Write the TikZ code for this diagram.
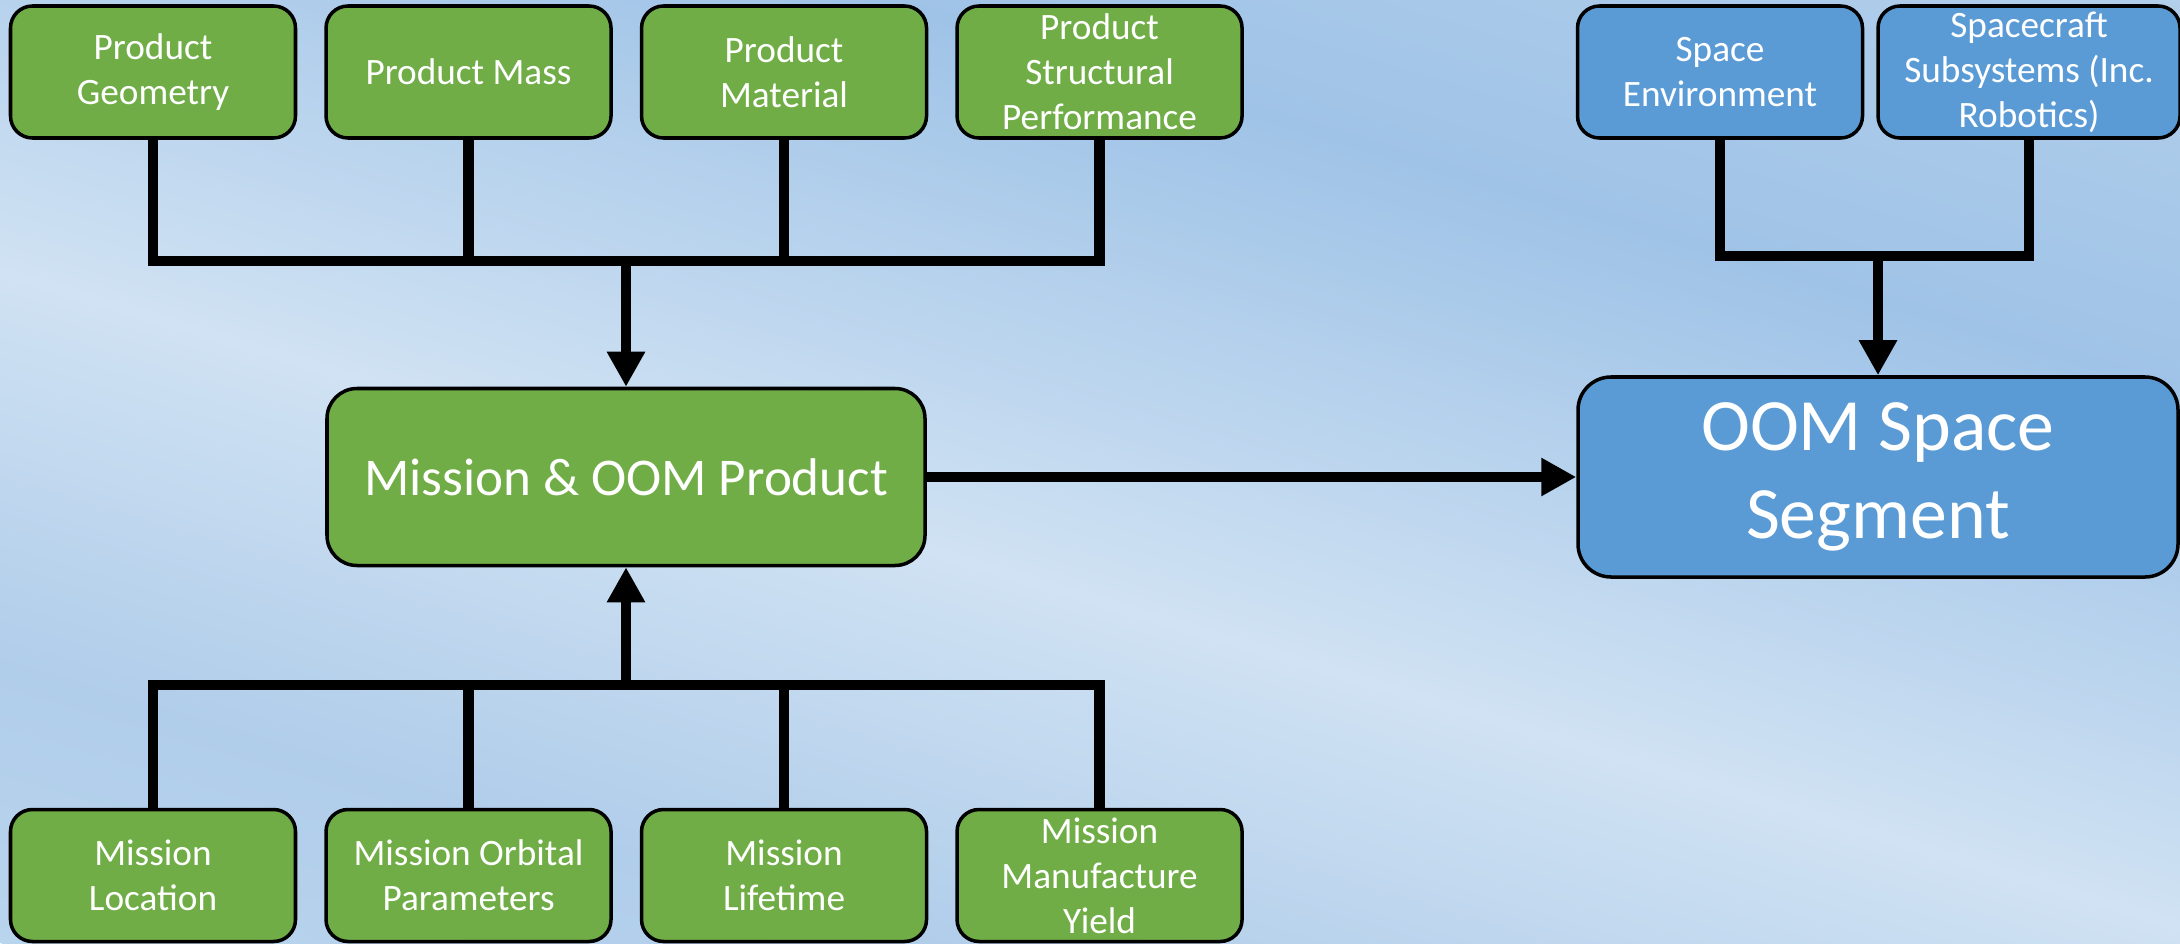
\documentclass[tikz,border=0pt]{standalone}
\usepackage{fontspec}
\setmainfont{Carlito}
\usetikzlibrary{positioning,arrows.meta}

\definecolor{boxgreen}{HTML}{70AD47}
\definecolor{boxblue}{HTML}{5B9BD5}
\definecolor{bgA}{HTML}{B9D4ED}
\definecolor{bgB}{HTML}{B0CDEA}
\definecolor{bgC}{HTML}{D0E2F3}
\definecolor{bgD}{HTML}{9FC3E7}
\definecolor{bgE}{HTML}{B3CFEB}

\pgfdeclareverticalshading{bgsky}{100bp}{
color(0bp)=(bgA); color(25bp)=(bgA); color(33.6bp)=(bgB);
color(45.9bp)=(bgC); color(62.5bp)=(bgD); color(75bp)=(bgE);
color(100bp)=(bgE)}

\tikzstyle{inputgreen} = [
rectangle,
rounded corners=0.22cm,
minimum width=2.85cm,
minimum height=1.32cm,
inner ysep=0pt,
align=center,
draw=black,
line width=1pt,
fill=boxgreen,
text=white,
font=\fontsize{10.6}{12.8}\selectfont
]
\tikzstyle{inputblue} = [
inputgreen,
fill=boxblue
]
\tikzstyle{mainbox} = [
rectangle,
rounded corners=0.3cm,
minimum width=5.98cm,
minimum height=1.77cm,
align=center,
draw=black,
line width=1pt,
fill=boxgreen,
text=white,
font=\fontsize{15.1}{18}\selectfont
]
\tikzstyle{link} = [
line width=3pt,
line join=miter
]
\tikzstyle{arrow} = [
line width=3pt,
-{Triangle[length=0.35cm,width=0.36cm]}
]

\begin{document}
\begin{tikzpicture}

\useasboundingbox (0,0) rectangle (21.8,9.43);

% Background
\begin{scope}
\clip (0,0) rectangle (21.8,9.43);
\begin{scope}[transform canvas={rotate=-16.7}]
\shade[shading=bgsky] (-3.2,0) rectangle (21.2,15.4);
\end{scope}
\end{scope}

% Nodes
\node (geometry) [inputgreen] at (1.53,8.71) {Product\\Geometry};
\node (mass) [inputgreen, right=0.27cm of geometry] {Product Mass};
\node (material) [inputgreen, right=0.27cm of mass] {Product\\Material};
\node (structural) [inputgreen, right=0.27cm of material]
{Product\\Structural\\Performance};

\node (mission) [mainbox] at (6.26,4.66) {Mission \& OOM Product};

\node (location) [inputgreen] at (1.53,0.675) {Mission\\Location};
\node (orbital) [inputgreen, right=0.27cm of location]
{Mission Orbital\\Parameters};
\node (lifetime) [inputgreen, right=0.27cm of orbital] {Mission\\Lifetime};
\node (yield) [inputgreen, right=0.27cm of lifetime]
{Mission\\Manufacture\\Yield};

\node (environment) [inputblue] at (17.2,8.71) {Space\\Environment};
\node (subsystems) [inputblue, minimum width=3.02cm, right=0.12cm of environment]
{Spacecraft\\Subsystems (Inc.\\Robotics)};

\node (segment) [mainbox, fill=boxblue, minimum width=6cm, minimum height=2cm,
rounded corners=0.33cm, font=\fontsize{21}{25}\selectfont] at (18.78,4.66)
{OOM Space\\Segment};

\coordinate (topjoin) at (mission.north |- 0,6.82);
\coordinate (bottomjoin) at (mission.south |- 0,2.58);
\coordinate (rightjoin) at (segment.north |- 0,6.87);

% Arrows
\draw [link] (geometry.south) |- (structural.south |- topjoin) -- (structural.south);
\draw [link] (mass.south) -- (mass.south |- topjoin);
\draw [link] (material.south) -- (material.south |- topjoin);
\draw [arrow] (topjoin) -- (mission.north);

\draw [link] (location.north) |- (yield.north |- bottomjoin) -- (yield.north);
\draw [link] (orbital.north) -- (orbital.north |- bottomjoin);
\draw [link] (lifetime.north) -- (lifetime.north |- bottomjoin);
\draw [arrow] (bottomjoin) -- (mission.south);

\draw [link] (environment.south) |- (subsystems.south |- rightjoin) -- (subsystems.south);
\draw [arrow] (rightjoin) -- (segment.north);

\draw [arrow] (mission.east) -- (segment.west);

\end{tikzpicture}
\end{document}
